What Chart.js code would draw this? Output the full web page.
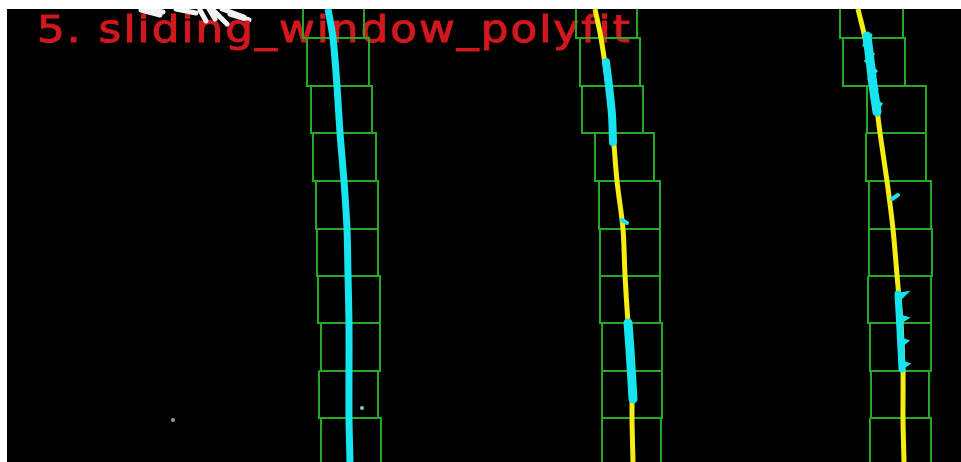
<!DOCTYPE html>
<html lang="en">
<head>
<meta charset="UTF-8">
<title>5. sliding_window_polyfit</title>
<style>
    html, body {
        margin: 0;
        padding: 0;
        background: #fff;
    }

    #lane-chart {
        display: block;
    }
</style>
</head>
<body>
<canvas id="lane-chart" width="961" height="462"></canvas>

<script src="https://cdn.jsdelivr.net/npm/chart.js"></script>
<script>
    // frame size in px, y grows downward
    const frameWidth = 954;
    const frameHeight = 453;
    const titleText = '5. sliding_window_polyfit';

    // sliding windows: row edges, then left / right edge of each window
    const rowEdges = [-19, 29, 77, 124, 172, 220, 267, 314, 362, 409, 457];
    const leftWinL = [296, 300, 304, 306, 309, 310, 311, 314, 312, 314];
    const leftWinR = [357, 362, 365, 369, 371, 371, 373, 373, 371, 374];
    const midWinL = [569, 573, 575, 588, 592, 593, 593, 595, 595, 595];
    const midWinR = [630, 633, 636, 647, 653, 653, 653, 655, 655, 654];
    const rightWinL = [833, 836, 860, 859, 862, 862, 861, 863, 864, 863];
    const rightWinR = [896, 898, 919, 919, 924, 925, 924, 924, 922, 924];

    // polyfit curves, x at each row
    const fitRows = [0, 29, 77, 124, 172, 220, 266, 314, 362, 409, 453];
    const leftFitX = [321, 326, 330, 333, 337, 340, 341, 342, 342, 342, 343];
    const midFitX = [588, 594, 601, 606, 610, 616, 618, 621, 625, 625, 626];
    const rightFitX = [851, 858, 867, 873, 880, 886, 890, 894, 896, 896, 897];

    // detected lane pixels [x, y]
    const leftPixels = [[321, 0], [326, 29], [330, 77], [333, 124], [337, 172], [340, 220], [341, 266], [342, 314], [342, 362], [342, 409], [343, 453]];
    const midPixelsTop = [[599, 53], [602, 77], [605, 106], [606, 133]];
    const midPixelsLow = [[621, 314], [623, 341], [626, 390]];
    const midSpeck = [[615, 211], [620, 214]];
    const rightPixelsTop = [[860, 27], [863, 51], [866, 76], [870, 103]];
    const rightRaggedTop = [[864, 26], [857, 36], [866, 45], [859, 52], [869, 62], [862, 70], [870, 80], [865, 88], [874, 95], [868, 104]];
    const rightSpeck = [[885, 190], [891, 186]];
    const rightPixelsLow = [[891, 285], [893, 321], [895, 360]];
    const rightRaggedLow = [[893, 285], [899, 284], [893, 290], [893, 307], [900, 309], [894, 313], [894, 330], [900, 332], [895, 336], [895, 353], [901, 355], [895, 359]];

    // stray pixels
    const greySpecks = [[166, 411]];
    const tealSpecks = [[355, 399]];
    const splashSegments = [
        [[134, 1], [153, 6]], [[139, 0], [156, 3]], [[169, 0], [189, 4]], [[193, 1], [199, 12]],
        [[202, 0], [208, 10]], [[207, 2], [220, 15]], [[215, 0], [237, 8]], [[223, 5], [242, 11]]
    ];

    const GREEN = 'rgb(38, 170, 38)';
    const YELLOW = '#f6ee12';
    const CYAN = '#16e4ee';
    const RED = '#d2181e';

    function pts(pairs) {
        return pairs.map(p => ({ x: p[0], y: p[1] }));
    }

    function line(data, color, width, order, extra) {
        return Object.assign({
            data: data,
            showLine: true,
            borderColor: color,
            backgroundColor: color,
            borderWidth: width,
            pointRadius: 0,
            tension: 0,
            clip: 0,
            order: order
        }, extra || {});
    }

    var datasets = [];

    // white splash at the top, behind the title
    splashSegments.forEach(function (seg, i) {
        datasets.push(line(pts(seg), '#f2f2f2', 5, 9, {
            borderCapStyle: 'round',
            titleAfter: i === splashSegments.length - 1
        }));
    });

    // windows
    [[leftWinL, leftWinR], [midWinL, midWinR], [rightWinL, rightWinR]].forEach(function (lane) {
        lane[0].forEach(function (l, i) {
            var r = lane[1][i], t = rowEdges[i], b = rowEdges[i + 1];
            datasets.push(line(pts([[l, t], [r, t], [r, b], [l, b], [l, t]]), GREEN, 2, 8));
        });
    });

    // fitted curves
    [leftFitX, midFitX, rightFitX].forEach(function (xs) {
        datasets.push(line(xs.map((x, i) => ({ x: x, y: fitRows[i] })), YELLOW, 5, 5, { tension: 0.3 }));
    });

    // lane pixels
    datasets.push(line(pts(leftPixels), CYAN, 7, 3, { tension: 0.3 }));
    datasets.push(line(pts(midPixelsTop), CYAN, 8, 3, { tension: 0.3, borderCapStyle: 'round' }));
    datasets.push(line(pts(midPixelsLow), CYAN, 9, 3, { tension: 0.3, borderCapStyle: 'round' }));
    datasets.push(line(pts(midSpeck), CYAN, 4, 3, { borderCapStyle: 'round' }));
    datasets.push(line(pts(rightPixelsTop), CYAN, 9, 3, { tension: 0.3, borderCapStyle: 'round' }));
    datasets.push(line(pts(rightRaggedTop), CYAN, 3, 3, { borderCapStyle: 'round' }));
    datasets.push(line(pts(rightSpeck), CYAN, 4, 3, { borderCapStyle: 'round' }));
    datasets.push(line(pts(rightPixelsLow), CYAN, 7, 3, { tension: 0.3, borderCapStyle: 'round' }));
    datasets.push(line(pts(rightRaggedLow), CYAN, 3, 3, { borderCapStyle: 'round' }));

    datasets.push({ data: pts(greySpecks), pointRadius: 2, pointBorderWidth: 0, backgroundColor: '#9a9a9a', clip: 0, order: 1 });
    datasets.push({ data: pts(tealSpecks), pointRadius: 2, pointBorderWidth: 0, backgroundColor: '#8fc4c4', clip: 0, order: 1 });

    // title in the top left of the frame, stretched to the width it has there
    function drawTitle(chart) {
        var ctx = chart.ctx;
        var x = chart.scales.x.getPixelForValue(30);
        var y = chart.scales.y.getPixelForValue(33);
        var target = chart.scales.x.getPixelForValue(623) - x;
        var stretch = 1.15;
        ctx.save();
        ctx.font = '38px "DejaVu Sans"';
        ctx.fillStyle = RED;
        ctx.strokeStyle = RED;
        ctx.lineWidth = 1;
        ctx.textBaseline = 'alphabetic';
        var w = ctx.measureText(titleText).width;
        var gap = (target / stretch - w) / (titleText.length - 1);
        ctx.letterSpacing = gap.toFixed(2) + 'px';
        ctx.translate(x, y);
        ctx.scale(stretch, 1);
        ctx.fillText(titleText, 0, 0);
        ctx.strokeText(titleText, 0, 0);
        ctx.restore();
    }

    const framePlugin = {
        id: 'framePlugin',
        beforeDraw(chart) {
            const a = chart.chartArea;
            chart.ctx.save();
            chart.ctx.fillStyle = '#000';
            chart.ctx.fillRect(a.left, a.top, a.right - a.left, a.bottom - a.top);
            chart.ctx.restore();
        },
        afterDatasetDraw(chart, args) {
            if (chart.data.datasets[args.index].titleAfter) drawTitle(chart);
        }
    };

    new Chart(document.getElementById('lane-chart'), {
        type: 'scatter',
        data: { datasets: datasets },
        options: {
            responsive: false,
            animation: false,
            layout: { autoPadding: false, padding: { left: 7, top: 9, right: 0, bottom: 0 } },
            plugins: {
                legend: { display: false },
                tooltip: { enabled: false }
            },
            scales: {
                x: { type: 'linear', min: 0, max: frameWidth, display: false },
                y: { type: 'linear', min: 0, max: frameHeight, reverse: true, display: false }
            }
        },
        plugins: [framePlugin]
    });
</script>
</body>
</html>
